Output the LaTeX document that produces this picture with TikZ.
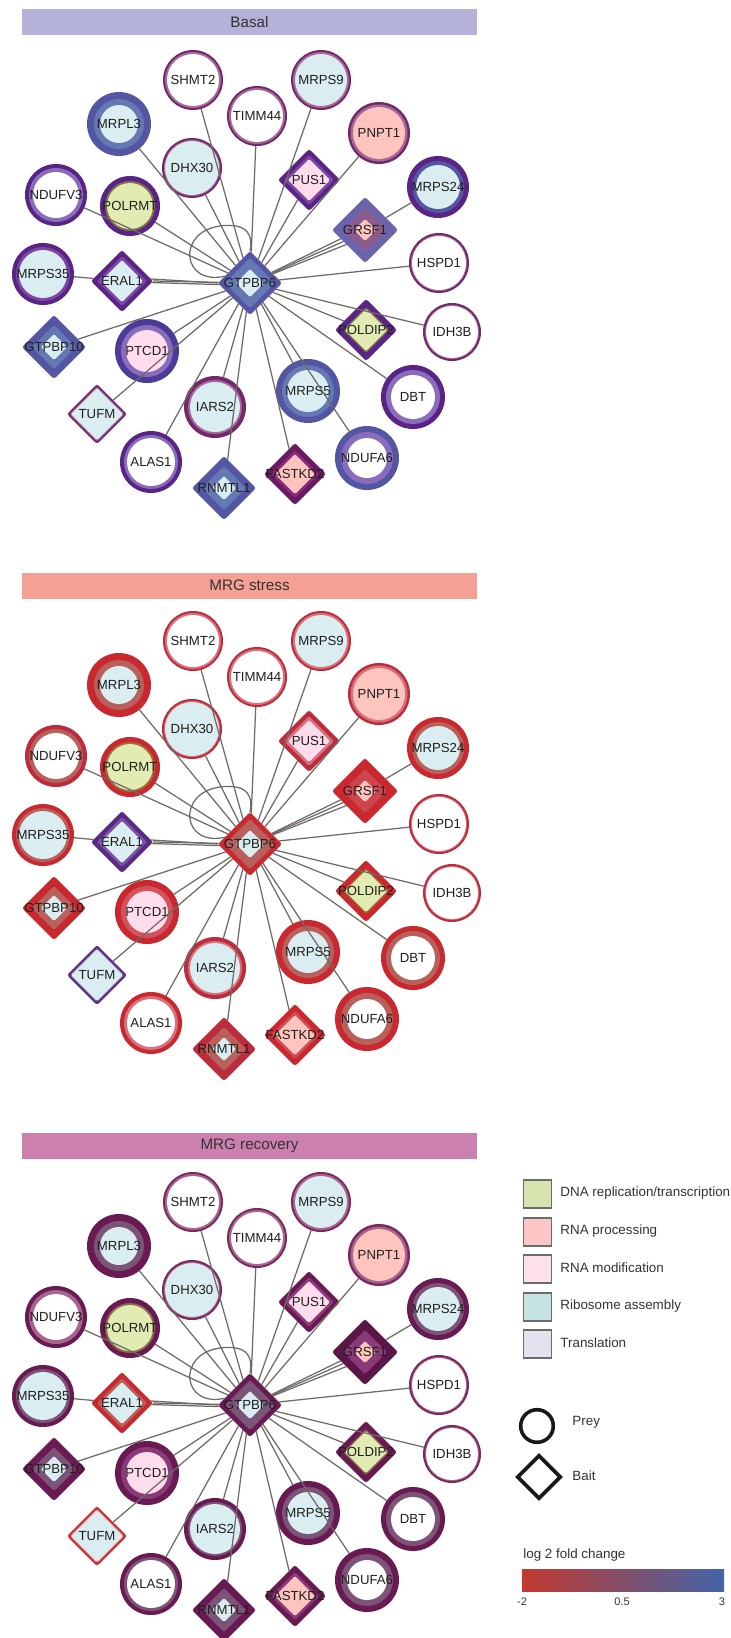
\documentclass[tikz,border=0pt]{standalone}
\usepackage{fontspec}
\setmainfont{Liberation Sans}
\usetikzlibrary{shapes.geometric}

% category fills
\definecolor{fB}{HTML}{DAEDF1}
\definecolor{fY}{HTML}{E2EBB2}
\definecolor{fS}{HTML}{FDC5BD}
\definecolor{fK}{HTML}{FDDCEC}
\definecolor{edgec}{HTML}{6E6A66}
\definecolor{olv}{HTML}{7C7448}
% basal
\definecolor{bM}{HTML}{74286C}
\definecolor{bMb}{HTML}{A46A98}
\definecolor{bP}{HTML}{5A2486}
\definecolor{bPb}{HTML}{8A6CBC}
\definecolor{bPc}{HTML}{7C46A2}
\definecolor{bB}{HTML}{5456A4}
\definecolor{bBb}{HTML}{6478B4}
\definecolor{bBc}{HTML}{6A64AA}
\definecolor{bMv}{HTML}{8C5C8E}
\definecolor{bBd}{HTML}{4A3C98}
\definecolor{bF}{HTML}{6A1A62}
\definecolor{bFb}{HTML}{8A2A78}
% stress
\definecolor{sR}{HTML}{C9282F}
\definecolor{sRb}{HTML}{B8605C}
\definecolor{sT}{HTML}{BC2C3C}
\definecolor{sTb}{HTML}{D8707C}
\definecolor{sP}{HTML}{5A2A82}
\definecolor{sPb}{HTML}{7C52A4}
\definecolor{sOl}{HTML}{A06A3C}
% recovery
\definecolor{rP}{HTML}{6A1A52}
\definecolor{rM}{HTML}{7C5478}
\definecolor{rT}{HTML}{7A2A5E}
\definecolor{rTb}{HTML}{A8648C}
\definecolor{rPb}{HTML}{8A3A78}
\definecolor{rOl}{HTML}{8A6A4A}
% legend
\definecolor{lgDNA}{HTML}{D6E4B0}
\definecolor{lgRP}{HTML}{FCC6C6}
\definecolor{lgRM}{HTML}{FDE0EA}
\definecolor{lgRA}{HTML}{C6E4E4}
\definecolor{lgTR}{HTML}{E4E0EE}
\definecolor{cbR}{HTML}{C23A2E}
\definecolor{cbP}{HTML}{7C2A7C}
\definecolor{cbB}{HTML}{4464A8}

\tikzset{
  edge/.style={draw=edgec, line width=0.62pt},
  blob/.style={inner sep=0pt, outer sep=0pt, draw=none},
  lab/.style={font=\fontsize{6.6}{7}\selectfont, inner sep=0pt, text=black!88},
  banner/.style={inner sep=0pt, minimum width=227.5pt, minimum height=13pt,
    font=\fontsize{7.6}{8}\selectfont, text=black!80},
  legsq/.style={draw=black!58, line width=0.6pt, minimum size=14pt, inner sep=0pt},
  legtx/.style={anchor=west, inner sep=0pt, font=\fontsize{6.7}{7}\selectfont, text=black!80},
  cblab/.style={inner sep=0pt, font=\fontsize{5.5}{6}\selectfont, text=black!80},
}

\newcommand\setc[3]{\colorlet{c#1o}{#2}\colorlet{c#1i}{#3}}
% circle node: name, x, y, outer, middle, inner diameter (pt), fill
\newcommand\Cn[7]{%
  \node[blob,circle,fill=c#1o,minimum size=#4pt] (#1) at (#2,#3) {};
  \node[blob,circle,fill=c#1i,minimum size=#5pt] at (#1) {};
  \node[blob,circle,fill=#7,minimum size=#6pt] at (#1) {};
  \node[lab] at (#1) {#1};}
\newcommand\Dn[7]{%
  \node[blob,diamond,aspect=1,rounded corners=1.2pt,fill=c#1o,minimum size=#4pt] (#1) at (#2,#3) {};
  \node[blob,diamond,aspect=1,rounded corners=1pt,fill=c#1i,minimum size=#5pt] at (#1) {};
  \node[blob,diamond,aspect=1,rounded corners=0.6pt,fill=#7,minimum size=#6pt] at (#1) {};
  \node[lab] at (#1) {#1};}

\newcommand\network{%
  \Cn{SHMT2}{193}{80}{30}{28}{26}{white}
  \Cn{MRPS9}{321}{80}{30}{28}{26}{fB}
  \Cn{TIMM44}{257}{116}{30}{28}{26}{white}
  \Cn{MRPL3}{119}{124}{32}{25}{19}{fB}
  \Cn{PNPT1}{379}{133}{31}{28.5}{26}{fS}
  \Cn{DHX30}{192}{168}{30}{28}{27}{fB}
  \Dn{PUS1}{309}{180}{31}{25}{21}{fK}
  \Cn{MRPS24}{438}{187}{31}{26}{22}{fB}
  \Cn{NDUFV3}{56}{195}{31}{27}{23}{white}
  \Cn{POLRMT}{130}{206}{30}{25}{23}{fY}
  \Dn{GRSF1}{365}{230}{33}{22}{11}{fS}
  \Cn{HSPD1}{439}{263}{30}{28}{27}{white}
  \Cn{MRPS35}{43}{274}{31}{27}{24}{fB}
  \Dn{ERAL1}{122}{281}{31}{25}{21}{fB}
  \Dn{GTPBP6}{250}{283}{32}{25}{14}{fB}
  \Dn{GTPBP10}{54}{347}{32}{22}{13}{fB}
  \Cn{PTCD1}{147}{351}{32}{26}{21}{fK}
  \Dn{POLDIP2}{366}{330}{31}{23}{21}{fY}
  \Cn{IDH3B}{452}{332}{29}{27}{26}{white}
  \Dn{TUFM}{97}{414}{30}{27.5}{26}{fB}
  \Cn{IARS2}{215}{407}{31}{27}{25}{fB}
  \Cn{MRPS5}{308}{391}{32}{26}{21}{fB}
  \Cn{DBT}{413}{397}{32}{27}{22}{white}
  \Cn{ALAS1}{151}{462}{31}{27}{24}{white}
  \Cn{NDUFA6}{367}{458}{32}{26}{20}{white}
  \Dn{RNMTL1}{224}{488}{32}{22}{12}{fB}
  \Dn{FASTKD2}{295}{474}{31}{24}{20}{fS}
  \foreach \n in {SHMT2,TIMM44,MRPS9,MRPL3,DHX30,PUS1,PNPT1,HSPD1,POLDIP2,IDH3B,DBT,MRPS5,NDUFA6,FASTKD2,RNMTL1,IARS2,ALAS1,PTCD1,TUFM,GTPBP10,POLRMT,NDUFV3}
    \draw[edge] (GTPBP6) -- (\n);
  \draw[edge] (MRPS35) -- (ERAL1);
  \draw[edge] (ERAL1.east) -- (GTPBP6);
  \draw[edge] (ERAL1.4) -- (GTPBP6.180);
  \draw[edge] (ERAL1.-3) -- (GTPBP6.183);
  \draw[edge] (MRPS24) -- (GRSF1);
  \draw[edge] (GRSF1.200) -- (GTPBP6);
  \draw[edge] (GRSF1.208) -- (GTPBP6);
  \draw[edge] (GRSF1.218) -- (GTPBP6);
  \draw[edge] (GTPBP6.165) .. controls (182,286) and (176,232) .. (220,226)
     .. controls (250,222) and (253,238) .. (GTPBP6.north);
}

\begin{document}
\begin{tikzpicture}[x=0.5pt,y=-0.5pt]
\useasboundingbox (0,0) rectangle (731,1638);
\fill[white] (0,0) rectangle (731,1638);

% banners
\node[banner, fill={rgb,255:red,180;green,178;blue,216}] (bn1) at (249.5,22) {Basal};
\node[banner, fill={rgb,255:red,244;green,160;blue,148}] (bn2) at (249.5,585.5) {MRG stress};
\node[banner, fill={rgb,255:red,204;green,128;blue,176}] (bn3) at (249.5,1145.5) {MRG recovery};

% ---- Basal ----
\begin{scope}
\setc{SHMT2}{bM}{bMb}\setc{MRPS9}{bM}{bMb}\setc{TIMM44}{bM}{bMb}
\setc{MRPL3}{bB}{bBb}\setc{PNPT1}{bM}{bMb}\setc{DHX30}{bM}{bMb}
\setc{PUS1}{bP}{bPc}\setc{MRPS24}{bP}{bB}\setc{NDUFV3}{bP}{bPb}
\setc{POLRMT}{bP}{olv}\setc{GRSF1}{bBc}{bMv}\setc{HSPD1}{bM}{bMb}
\setc{MRPS35}{bP}{bPc}\setc{ERAL1}{bP}{bPc}\setc{GTPBP6}{bB}{bBb}
\setc{GTPBP10}{bB}{bBb}\setc{PTCD1}{bBd}{bPb}\setc{POLDIP2}{bP}{olv}
\setc{IDH3B}{bM}{bMb}\setc{TUFM}{bM}{bMb}\setc{IARS2}{bM}{bMb}
\setc{MRPS5}{bB}{bBb}\setc{DBT}{bP}{bPb}\setc{ALAS1}{bP}{bPb}
\setc{NDUFA6}{bB}{bPb}\setc{RNMTL1}{bB}{bBb}\setc{FASTKD2}{bF}{bFb}
\network
\end{scope}

% ---- MRG stress ----
\begin{scope}[shift={(0,561)}]
\setc{SHMT2}{sT}{sTb}\setc{MRPS9}{sT}{sTb}\setc{TIMM44}{sT}{sTb}
\setc{MRPL3}{sR}{sRb}\setc{PNPT1}{sT}{sTb}\setc{DHX30}{sT}{sTb}
\setc{PUS1}{sT}{sTb}\setc{MRPS24}{sR}{sRb}\setc{NDUFV3}{sT}{sRb}
\setc{POLRMT}{sR}{sOl}\setc{GRSF1}{sR}{sTb!40!sR}\setc{HSPD1}{sT}{sTb}
\setc{MRPS35}{sR}{sRb}\setc{ERAL1}{sP}{sPb}\setc{GTPBP6}{sR}{sRb}
\setc{GTPBP10}{sR}{sRb}\setc{PTCD1}{sR}{sTb!60!sR}\setc{POLDIP2}{sR}{sOl}
\setc{IDH3B}{sT}{sTb}\setc{TUFM}{sP}{sPb}\setc{IARS2}{sT}{sTb}
\setc{MRPS5}{sR}{sRb}\setc{DBT}{sR}{sRb}\setc{ALAS1}{sR}{sTb}
\setc{NDUFA6}{sR}{sRb}\setc{RNMTL1}{sT}{sRb}\setc{FASTKD2}{sR}{sTb!50!sR}
\network
\end{scope}

% ---- MRG recovery ----
\begin{scope}[shift={(0,1122)}]
\setc{SHMT2}{rT}{rTb}\setc{MRPS9}{rT}{rTb}\setc{TIMM44}{rT}{rTb}
\setc{MRPL3}{rP}{rM}\setc{PNPT1}{rT}{rTb}\setc{DHX30}{rT}{rTb}
\setc{PUS1}{rP}{rPb}\setc{MRPS24}{rP}{rM}\setc{NDUFV3}{rP}{rTb}
\setc{POLRMT}{rP}{rOl}\setc{GRSF1}{rP!85!black}{rPb}\setc{HSPD1}{rT}{rTb}
\setc{MRPS35}{rP}{rM}\setc{ERAL1}{sR}{sRb}\setc{GTPBP6}{rP}{rM}
\setc{GTPBP10}{rP}{rM}\setc{PTCD1}{rP}{rPb}\setc{POLDIP2}{rP}{rOl}
\setc{IDH3B}{rT}{rTb}\setc{TUFM}{sR}{sTb}\setc{IARS2}{rP}{rM}
\setc{MRPS5}{rP}{rM}\setc{DBT}{rP}{rM}\setc{ALAS1}{rP}{rM}
\setc{NDUFA6}{rP}{rM}\setc{RNMTL1}{rP}{rM}\setc{FASTKD2}{rP}{rPb}
\network
\end{scope}

% ---- legend ----
\node[legsq, fill=lgDNA] (lg1) at (537.5,1194) {};
\node[legsq, fill=lgRP] (lg2) at (537.5,1232) {};
\node[legsq, fill=lgRM] (lg3) at (537.5,1269) {};
\node[legsq, fill=lgRA] (lg4) at (537.5,1307) {};
\node[legsq, fill=lgTR] (lg5) at (537.5,1344) {};
\node[legtx] (lt1) at (560,1193) {DNA replication/transcription};
\node[legtx] (lt2) at (560,1231) {RNA processing};
\node[legtx] (lt3) at (560,1268) {RNA modification};
\node[legtx] (lt4) at (560,1306) {Ribosome assembly};
\node[legtx] (lt5) at (560,1343) {Translation};

\node[circle, draw=black!90, line width=1.8pt, minimum size=16.3pt, inner sep=0pt] (prey) at (537,1426) {};
\node[legtx] (preyt) at (572,1422) {Prey};
\node[diamond, aspect=1, draw=black!90, line width=1.8pt, minimum size=22pt, inner sep=0pt] (bait) at (539,1477) {};
\node[legtx] (baitt) at (572,1476) {Bait};

\node[legtx] (cbt) at (523,1555) {log 2 fold change};
\node[inner sep=0pt, minimum width=101pt, minimum height=11pt,
      left color=cbR, middle color=cbP, right color=cbB] (cbar) at (623,1580) {};
\node[cblab] (cb1) at (522,1602) {-2};
\node[cblab] (cb2) at (622,1602) {0.5};
\node[cblab] (cb3) at (722,1602) {3};
\end{tikzpicture}
\end{document}
